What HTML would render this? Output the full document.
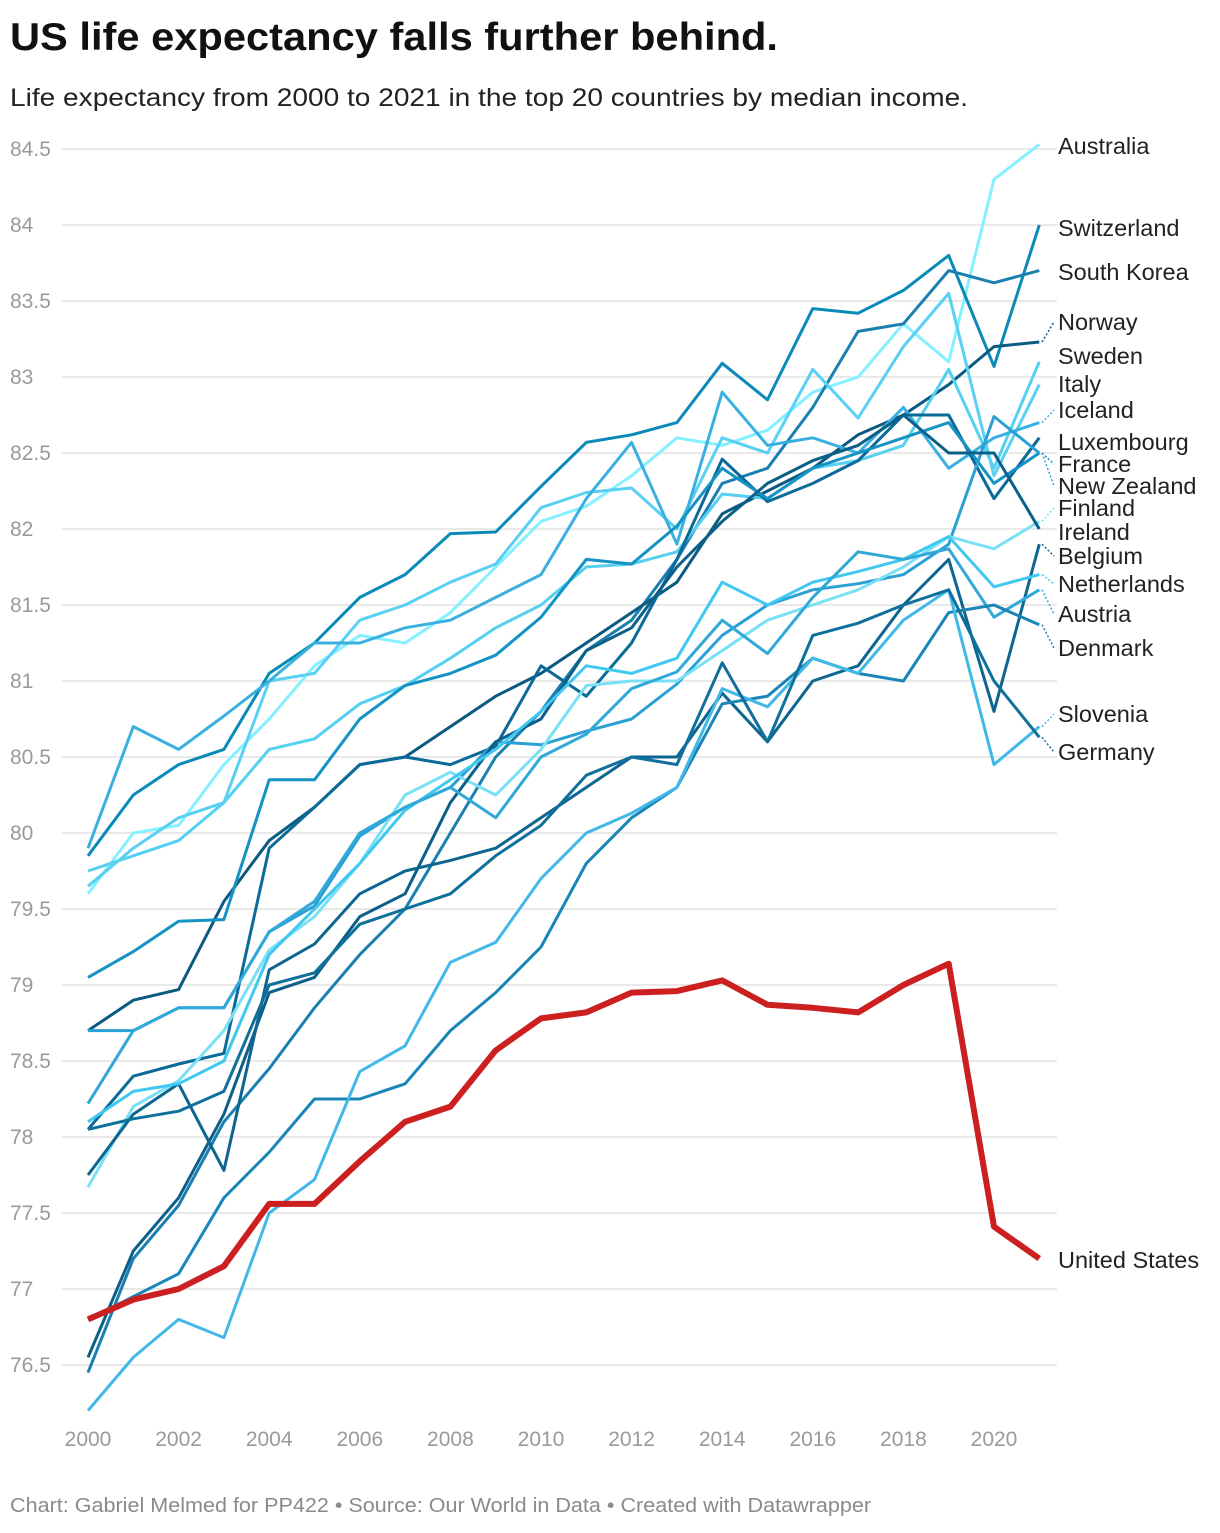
<!DOCTYPE html>
<html><head><meta charset="utf-8"><style>
body{margin:0;background:#fff;font-family:"Liberation Sans",Arial,sans-serif}
svg text{font-family:"Liberation Sans",Arial,sans-serif}
</style></head><body>
<svg width="1220" height="1528" viewBox="0 0 1220 1528">
<text x="10" y="50" font-size="39" font-weight="bold" fill="#111" textLength="768" lengthAdjust="spacingAndGlyphs">US life expectancy falls further behind.</text>
<text x="10" y="106" font-size="25" fill="#222" textLength="958" lengthAdjust="spacingAndGlyphs">Life expectancy from 2000 to 2021 in the top 20 countries by median income.</text>
<g id="grid"></g><g id="lines"></g><g id="labels"></g>
<text x="10" y="1512" font-size="20" fill="#8a8a8a" textLength="861" lengthAdjust="spacingAndGlyphs">Chart: Gabriel Melmed for PP422 • Source: Our World in Data • Created with Datawrapper</text>
</svg>
<script>
const years=[2000,2001,2002,2003,2004,2005,2006,2007,2008,2009,2010,2011,2012,2013,2014,2015,2016,2017,2018,2019,2020,2021];
const yTicks=[76.5,77,77.5,78,78.5,79,79.5,80,80.5,81,81.5,82,82.5,83,83.5,84,84.5];
const yTickLabels=["76.5","77","77.5","78","78.5","79","79.5","80","80.5","81","81.5","82","82.5","83","83.5","84","84.5"];
const xTicks=[2000,2002,2004,2006,2008,2010,2012,2014,2016,2018,2020];
const names=["Australia","Switzerland","South Korea","Norway","Sweden","Italy","Iceland","Luxembourg","France","New Zealand","Finland","Ireland","Belgium","Netherlands","Austria","Denmark","Slovenia","Germany"];
const colors=["#85f0ff","#0a8ab8","#1b7fb0","#0b5a80","#55d0f0","#5ad0f5","#3ab0e0","#0a6a98","#1493c4","#2aa0d5","#7ae0f5","#0c5f88","#0e6690","#40c8f0","#30a8d8","#1a86b8","#42b8e8","#10709c"];
const labelY=[146,228,272,322,356,384,410,442,464,486,508,532,556,584,614,648,714,752];
const series=[
[79.6,80.0,80.05,80.45,80.75,81.1,81.3,81.25,81.45,81.75,82.05,82.15,82.35,82.6,82.55,82.65,82.9,83.0,83.35,83.1,84.3,84.53],
[79.85,80.25,80.45,80.55,81.05,81.25,81.55,81.7,81.97,81.98,82.28,82.57,82.62,82.7,83.09,82.85,83.45,83.42,83.57,83.8,83.07,84.0],
[76.45,77.2,77.55,78.1,78.45,78.85,79.2,79.5,80.0,80.5,80.8,81.2,81.4,81.8,82.3,82.4,82.8,83.3,83.35,83.7,83.62,83.7],
[78.7,78.9,78.97,79.55,79.95,80.17,80.45,80.5,80.7,80.9,81.05,81.25,81.45,81.65,82.1,82.25,82.4,82.62,82.75,82.95,83.2,83.23],
[79.75,79.85,79.95,80.2,80.55,80.62,80.85,80.97,81.15,81.35,81.5,81.75,81.77,81.85,82.23,82.2,82.4,82.45,82.55,83.05,82.4,83.1],
[79.65,79.9,80.1,80.2,81.0,81.05,81.4,81.5,81.65,81.77,82.14,82.24,82.27,82.0,82.6,82.5,83.05,82.73,83.2,83.55,82.35,82.95],
[79.9,80.7,80.55,80.77,81.0,81.25,81.25,81.35,81.4,81.55,81.7,82.2,82.57,81.9,82.9,82.55,82.6,82.5,82.8,82.4,82.6,82.7],
[78.05,78.4,78.48,78.55,79.9,80.17,80.45,80.5,80.45,80.57,81.1,80.9,81.25,81.8,82.46,82.18,82.3,82.45,82.75,82.75,82.2,82.6],
[79.05,79.22,79.42,79.43,80.35,80.35,80.75,80.97,81.05,81.17,81.42,81.8,81.77,82.02,82.4,82.2,82.4,82.5,82.6,82.7,82.3,82.5],
[78.7,78.7,78.85,78.85,79.35,79.52,79.98,80.17,80.3,80.6,80.58,80.67,80.75,80.98,81.3,81.5,81.6,81.64,81.7,81.9,82.74,82.5],
[77.67,78.2,78.37,78.7,79.23,79.45,79.8,80.25,80.4,80.25,80.55,80.97,81.0,81.0,81.2,81.4,81.5,81.6,81.75,81.95,81.87,82.05],
[76.55,77.25,77.6,78.15,78.95,79.05,79.45,79.6,80.2,80.6,80.75,81.2,81.35,81.75,82.05,82.3,82.45,82.55,82.75,82.5,82.5,82.0],
[77.75,78.15,78.35,77.78,79.1,79.27,79.6,79.75,79.82,79.9,80.1,80.3,80.5,80.5,80.92,80.6,81.0,81.1,81.5,81.8,80.8,81.9],
[78.1,78.3,78.35,78.5,79.2,79.5,79.8,80.15,80.35,80.55,80.8,81.1,81.05,81.15,81.65,81.5,81.65,81.72,81.8,81.95,81.62,81.7],
[78.22,78.7,78.85,78.85,79.35,79.55,80.0,80.17,80.3,80.1,80.5,80.65,80.95,81.06,81.4,81.18,81.55,81.85,81.8,81.87,81.42,81.6],
[76.8,76.95,77.1,77.6,77.9,78.25,78.25,78.35,78.7,78.95,79.25,79.8,80.1,80.3,80.85,80.9,81.15,81.05,81.0,81.45,81.5,81.37],
[76.2,76.55,76.8,76.68,77.5,77.72,78.43,78.6,79.15,79.28,79.7,80.0,80.13,80.3,80.95,80.83,81.15,81.05,81.4,81.6,80.45,80.7],
[78.05,78.12,78.17,78.3,79.0,79.08,79.4,79.5,79.6,79.85,80.05,80.38,80.5,80.45,81.12,80.6,81.3,81.38,81.5,81.6,81.0,80.63]];
const usValues=[76.8,76.93,77.0,77.15,77.56,77.56,77.84,78.1,78.2,78.57,78.78,78.82,78.95,78.96,79.03,78.87,78.85,78.82,79.0,79.14,77.41,77.2];
const X=y=>88+(y-2000)*45.3;
const Y=v=>149+(84.5-v)*152;
const NS="http://www.w3.org/2000/svg";
function mk(t,a,p){const e=document.createElementNS(NS,t);for(const k in a)e.setAttribute(k,a[k]);p.appendChild(e);return e;}
const grid=document.getElementById('grid'),lines=document.getElementById('lines'),labels=document.getElementById('labels');
yTicks.forEach((v,i)=>{
 const l=mk('line',{x1:62,x2:1057,y1:Y(v),y2:Y(v),stroke:'#e2e2e2','stroke-width':1.5},grid);
 
 
 const t=mk('text',{x:10,y:Y(v)+7,'font-size':21,fill:'#9a9a9a'},grid);t.textContent=yTickLabels[i];
 
 
});
xTicks.forEach(yr=>{
 const t=mk('text',{x:X(yr),y:1446,'font-size':21,fill:'#9a9a9a','text-anchor':'middle'},grid);t.textContent=yr;
 
 
});
function pts(vals){return vals.map((v,i)=>X(years[i]).toFixed(1)+','+Y(v).toFixed(1)).join(' ');}
series.forEach((s,i)=>{
 const p=mk('polyline',{points:pts(s),fill:'none',stroke:colors[i],'stroke-width':3,'stroke-linejoin':'round'},lines);
 
 
 const ey=Y(s[s.length-1]);
 if(Math.abs(ey-labelY[i])>6){
  const c=mk('line',{x1:1042,y1:ey,x2:1054,y2:labelY[i],stroke:colors[i],'stroke-width':1.5,'stroke-dasharray':'2,2'},labels);
  
  
 }
 const t=mk('text',{x:1058,y:labelY[i]+8,'font-size':23.5,fill:'#222'},labels);t.textContent=names[i];
 
 
});
const us=mk('polyline',{points:pts(usValues),fill:'none',stroke:'#cc1f1f','stroke-width':6,'stroke-linejoin':'round'},lines);


const ut=mk('text',{x:1058,y:1268,'font-size':23.5,fill:'#222'},labels);ut.textContent='United States';


</script>
</body></html>
